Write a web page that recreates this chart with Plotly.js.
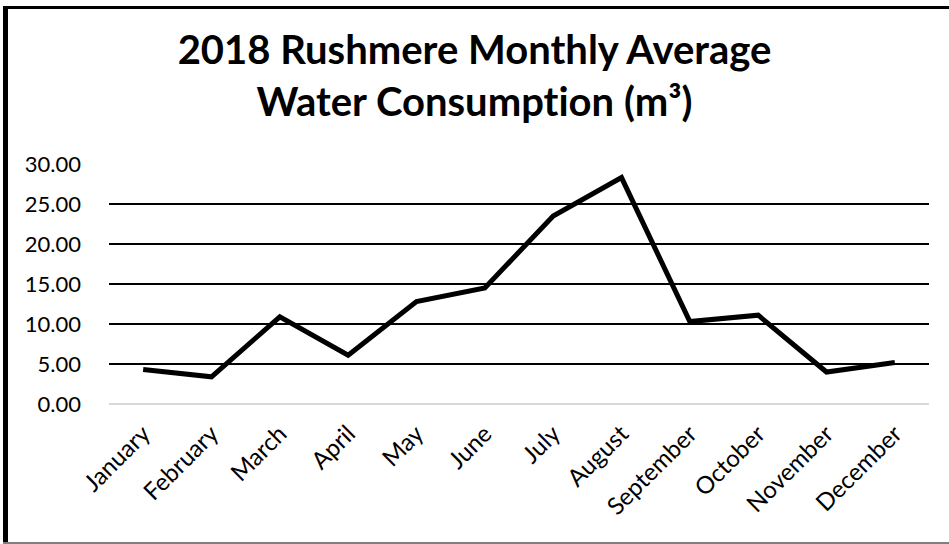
<!DOCTYPE html>
<html>
<head>
<meta charset="utf-8">
<script src="https://cdn.plot.ly/plotly-3.0.1.min.js"></script>
<style>
  html, body { margin: 0; padding: 0; background: #fff; }
  #wrap { position: relative; width: 949px; height: 544px; }
  #chart { position: absolute; left: 0; top: 0; width: 949px; height: 544px; }
  #chart text { font-variant-ligatures: none; font-feature-settings: "liga" 0, "clig" 0; }
  .bl { position: absolute; left: 3px; top: 6px; width: 5px; height: 538px; background: #000; z-index: 5; }
  .bt { position: absolute; left: 3px; top: 6px; width: 946px; height: 3px; background: #000; z-index: 5; }
  .bb { position: absolute; left: 3px; top: 542px; width: 946px; height: 2px; background: #7f7f7f; z-index: 5; }
</style>
</head>
<body>
<div id="wrap">
  <div id="chart"></div>
  <div class="bl"></div><div class="bt"></div><div class="bb"></div>
</div>
<script>
const titleText = "2018 Rushmere Monthly Average<br>Water Consumption (m³)";
const months = ["January","February","March","April","May","June","July","August","September","October","November","December"];
const consumption = [4.3, 3.4, 10.9, 6.1, 12.8, 14.5, 23.5, 28.3, 10.3, 11.1, 4.0, 5.2];
const yTickValues = [0, 5, 10, 15, 20, 25, 30];

const font = "Lato, 'Open Sans', sans-serif";

const trace = {
  x: months,
  y: consumption,
  type: "scatter",
  mode: "lines",
  line: { color: "#000000", width: 5 },
  hoverinfo: "x+y"
};

const layout = {
  width: 949,
  height: 544,
  paper_bgcolor: "#ffffff",
  plot_bgcolor: "#ffffff",
  margin: { l: 109, r: 20, t: 164, b: 140, pad: 0 },
  showlegend: false,
  title: {
    text: titleText,
    font: { family: font, size: 40, color: "#000000", weight: "bold" },
    x: 0.5,
    xanchor: "center",
    xref: "container",
    y: 1 - 64 / 544,
    yanchor: "top",
    yref: "container"
  },
  xaxis: {
    type: "category",
    tickangle: -45,
    showgrid: false,
    zeroline: false,
    showline: false,
    ticks: "",
    ticklabelstandoff: 10,
    tickfont: { family: font, size: 24, color: "#000000" },
    range: [-0.5, 11.5],
    fixedrange: true
  },
  yaxis: {
    range: [0, 30],
    tickvals: yTickValues,
    tickformat: ".2f",
    showgrid: true,
    gridcolor: "#000000",
    gridwidth: 2,
    zeroline: true,
    zerolinecolor: "#d9d9d9",
    zerolinewidth: 2,
    showline: false,
    ticks: "",
    ticklabelstandoff: 27,
    tickfont: { family: font, size: 22, color: "#000000" },
    fixedrange: true
  }
};

Plotly.newPlot("chart", [trace], layout, { displayModeBar: false, staticPlot: true });
</script>
</body>
</html>
